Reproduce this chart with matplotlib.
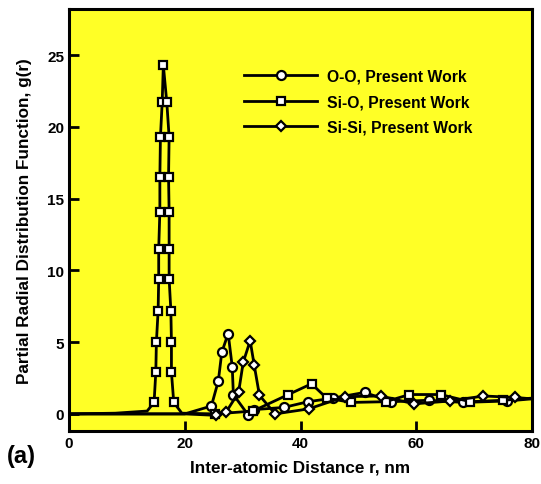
import numpy as np
import matplotlib.pyplot as plt

plt.rcParams['font.family'] = ['Liberation Sans', 'DejaVu Sans']

# ---- data ----
oo_x = [0, 20, 24.6, 25.8, 26.4, 27.5, 28.2, 28.4, 31.0, 32.0, 37.1, 41.3,
        45.6, 51.1, 55.6, 62.2, 68.1, 75.7, 80]
oo_y = [0, 0, 0.55, 2.3, 4.3, 5.6, 3.3, 1.35, -0.1, 0.3, 0.45, 0.85,
        1.1, 1.5, 0.85, 0.95, 0.8, 0.9, 1.05]
oo_mark = list(range(2, 18))

sio_x = [0, 8, 13.5, 14.7, 15.0, 15.1, 15.4, 15.5, 15.5, 15.7, 15.7, 15.8, 16.1,
         16.3, 16.9, 17.3, 17.2, 17.3, 17.3, 17.3, 17.6, 17.7, 17.7, 18.1,
         19.5, 25.3, 31.8, 37.9, 41.9, 44.5, 48.8, 54.7, 58.8, 64.2, 69.3,
         75.0, 80]
sio_y = [0, 0.05, 0.2, 0.8, 2.9, 5.0, 7.2, 9.4, 11.5, 14.1, 16.5, 19.3, 21.7,
         24.3, 21.7, 19.3, 16.5, 14.1, 11.5, 9.4, 7.2, 5.0, 2.9, 0.8,
         0.05, 0.0, 0.2, 1.35, 2.1, 1.1, 0.8, 0.85, 1.35, 1.35, 0.85,
         0.95, 1.1]
sio_mark = list(range(3, 24)) + list(range(25, 36))

sisi_x = [0, 20, 25.4, 27.1, 29.3, 30.1, 31.3, 32.0, 32.9, 35.6, 41.4, 47.7,
          53.9, 59.6, 65.9, 71.6, 77.0, 80]
sisi_y = [0, 0, -0.1, 0.1, 1.5, 3.6, 5.1, 3.4, 1.3, 0.0, 0.35, 1.2,
          1.25, 0.7, 0.9, 1.25, 1.15, 1.05]
sisi_mark = list(range(2, 17))

xticks = [0, 20, 40, 60, 80]
yticks = [0, 5, 10, 15, 20, 25]

fig = plt.figure(figsize=(5.41, 4.85), dpi=100)
ax = fig.add_axes([0.1275, 0.109, 0.856, 0.870])
ax.set_facecolor('#ffff26')

lw = 2.0
ax.plot(oo_x, oo_y, color='black', lw=lw, marker='o', markevery=oo_mark,
        markersize=6.5, markerfacecolor='white', markeredgecolor='black',
        markeredgewidth=1.6, label='O-O, Present Work')
ax.plot(sio_x, sio_y, color='black', lw=lw, marker='s', markevery=sio_mark,
        markersize=5.5, markerfacecolor='white', markeredgecolor='black',
        markeredgewidth=1.6, label='Si-O, Present Work')
ax.plot(sisi_x, sisi_y, color='black', lw=lw, marker='D', markevery=sisi_mark,
        markersize=5.0, markerfacecolor='white', markeredgecolor='black',
        markeredgewidth=1.6, label='Si-Si, Present Work')

ax.set_xlim(0, 80)
ax.set_ylim(-1.2, 28.2)
ax.set_xticks(xticks)
ax.set_yticks(yticks)
ax.tick_params(direction='in', length=7, width=2, top=False, right=False,
               labelsize=11)
for lab in ax.get_xticklabels() + ax.get_yticklabels():
    lab.set_fontweight('bold')
for s in ax.spines.values():
    s.set_linewidth(2.2)

ax.set_xlabel('Inter-atomic Distance r, nm', fontsize=12.3, fontweight='bold',
              labelpad=7)
ax.set_ylabel('Partial Radial Distribution Function, g(r)', fontsize=12.3,
              fontweight='bold', labelpad=11)
fig.text(0.013, 0.045, '(a)', fontsize=17, fontweight='bold')

leg = ax.legend(loc='upper left', bbox_to_anchor=(0.362, 0.878), frameon=False,
                handlelength=4.6, numpoints=1, fontsize=11.3,
                handletextpad=0.65, labelspacing=0.68, borderpad=0)
for t in leg.get_texts():
    t.set_fontweight('bold')

fig.savefig('out.png', dpi=100)
